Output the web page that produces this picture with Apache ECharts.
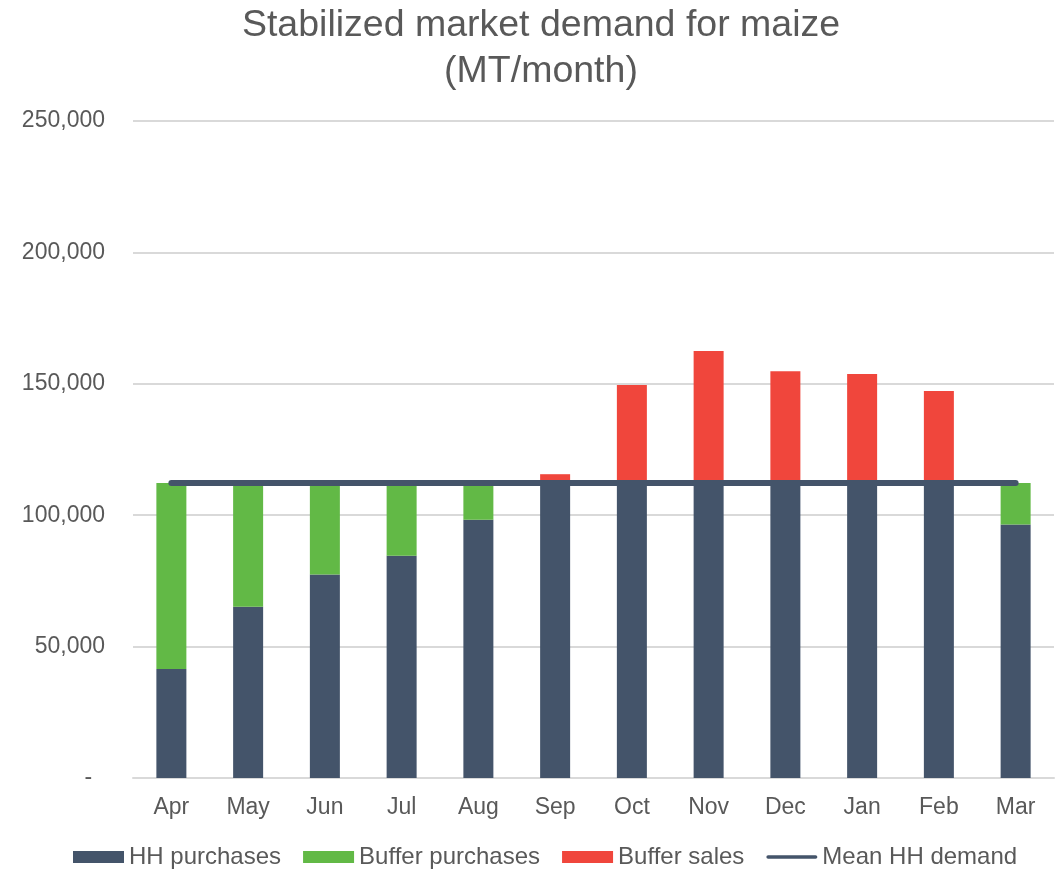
<!DOCTYPE html>
<html>
<head>
<meta charset="utf-8">
<script src="https://cdn.jsdelivr.net/npm/echarts@6/dist/echarts.min.js"></script>
<style>
html,body{margin:0;padding:0;background:#fff;}
#chart{width:1056px;height:870px;}
</style>
</head>
<body>
<div id="chart"></div>
<script>
const months = ['Apr','May','Jun','Jul','Aug','Sep','Oct','Nov','Dec','Jan','Feb','Mar'];
const hhPurchases = [41500, 65200, 77400, 84600, 98300, 112300, 112300, 112300, 112300, 112300, 112300, 96500];
const bufferPurchases = [70800, 47100, 34900, 27700, 14000, 0, 0, 0, 0, 0, 0, 15800];
const bufferSales = [0, 0, 0, 0, 0, 3300, 37200, 50200, 42500, 41400, 35000, 0];
const meanHHDemand = [112300, 112300, 112300, 112300, 112300, 112300, 112300, 112300, 112300, 112300, 112300, 112300];
const yTicks = [0, 50000, 100000, 150000, 200000, 250000];

const FONT = '"Liberation Sans", Arial, sans-serif';
const TXT = '#595959';

const chart = echarts.init(document.getElementById('chart'));
chart.setOption({
  animation: false,
  title: {
    text: 'Stabilized market demand for maize\n(MT/month)',
    left: 536,
    textAlign: 'center',
    top: -2,
    textStyle: {fontFamily: FONT, fontSize: 37.5, fontWeight: 'normal', color: TXT, lineHeight: 46}
  },
  legend: {
    left: 68,
    top: 840,
    itemWidth: 51,
    itemHeight: 12,
    itemGap: 22,
    textStyle: {fontFamily: FONT, fontSize: 24, color: TXT},
    data: [
      {name: 'HH purchases', icon: 'rect'},
      {name: 'Buffer purchases', icon: 'rect'},
      {name: 'Buffer sales', icon: 'rect'},
      {name: 'Mean HH demand', icon: 'path://M2,0 L55,0 Q57,0 57,2 Q57,4 55,4 L2,4 Q0,4 0,2 Q0,0 2,0 Z'}
    ]
  },
  grid: {left: 133, right: 2, top: 121, bottom: 92, containLabel: false},
  xAxis: {
    type: 'category',
    data: months,
    axisTick: {show: false},
    axisLine: {lineStyle: {color: '#D9D9D9', width: 2}},
    axisLabel: {fontFamily: FONT, fontSize: 23, color: TXT, margin: 18}
  },
  yAxis: {
    type: 'value',
    min: yTicks[0],
    max: yTicks[yTicks.length - 1],
    interval: 50000,
    axisLine: {show: false},
    axisTick: {show: false},
    splitLine: {lineStyle: {color: '#D9D9D9', width: 2}},
    axisLabel: {
      fontFamily: FONT, fontSize: 23, color: TXT, margin: 28,
      formatter: v => v === 0 ? '-  ' : v.toLocaleString('en-US')
    }
  },
  series: [
    {name: 'HH purchases', type: 'bar', stack: 'total', data: hhPurchases, barWidth: 30,
     itemStyle: {color: '#44546A'}},
    {name: 'Buffer purchases', type: 'bar', stack: 'total', data: bufferPurchases, barWidth: 30,
     itemStyle: {color: '#62B946'}},
    {name: 'Buffer sales', type: 'bar', stack: 'total', data: bufferSales, barWidth: 30,
     itemStyle: {color: '#F0463C'}},
    {name: 'Mean HH demand', type: 'line', data: meanHHDemand, symbol: 'none', z: 5,
     lineStyle: {color: '#44546A', width: 6, cap: 'round'}, itemStyle: {color: '#44546A'}}
  ]
});
</script>
</body>
</html>
